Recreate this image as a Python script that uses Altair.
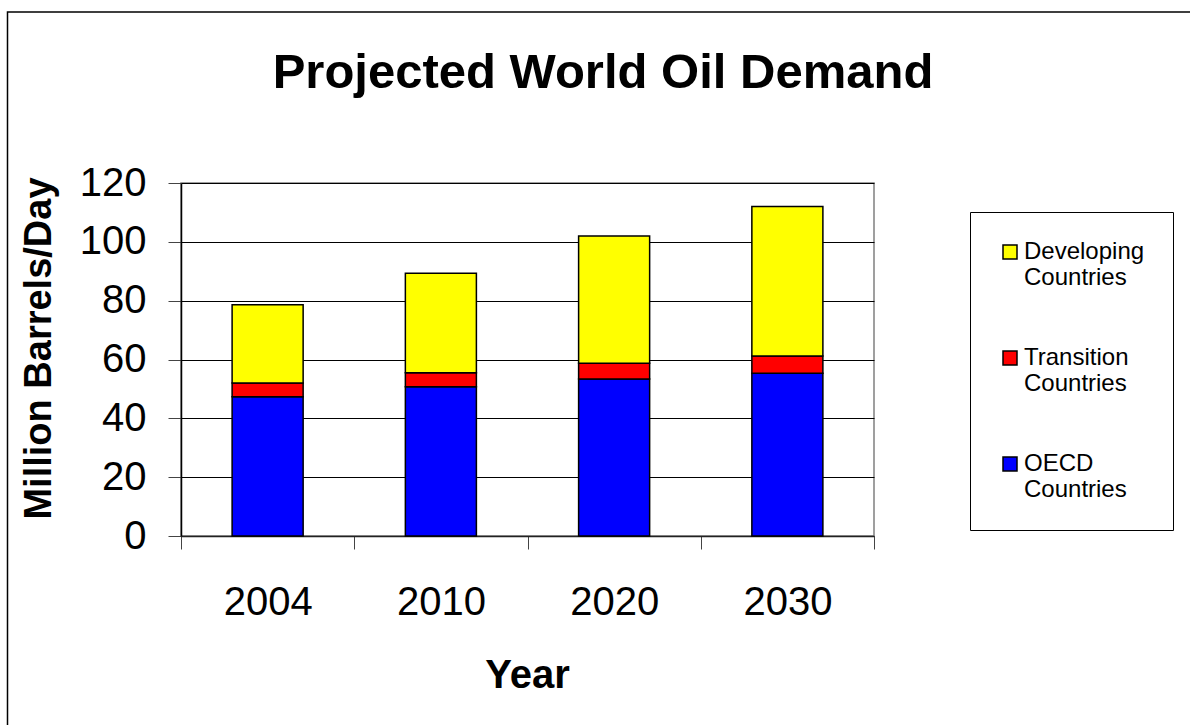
import altair as alt
import pandas as pd

# Projected world oil demand, million barrels per day
years = ["2004", "2010", "2020", "2030"]
oecd = [47.3, 50.7, 53.4, 55.3]
transition = [4.7, 4.8, 5.3, 5.9]
developing = [26.6, 33.8, 43.3, 50.8]

groups = ["Developing Countries", "Transition Countries", "OECD Countries"]
group_colors = ["#FFFF00", "#FF0000", "#0000FF"]
stack_rank = {"OECD Countries": 0, "Transition Countries": 1, "Developing Countries": 2}

chart_title = "Projected World Oil Demand"

rows = []
for i, yr in enumerate(years):
    for name, vals in (("OECD Countries", oecd),
                       ("Transition Countries", transition),
                       ("Developing Countries", developing)):
        rows.append({"Year": yr, "Group": name, "Demand": vals[i], "rank": stack_rank[name]})
df = pd.DataFrame(rows)

FONT = "Liberation Sans"
PLOT_W, PLOT_H = 693, 353
PAD_L, PAD_T = 181, 183

# legend labels wrap onto two lines, first line beside the swatch
LABEL_EXPR = "split(datum.label, ' ')"

bars = alt.Chart(df).mark_bar(
    width=alt.RelativeBandSize(0.41), stroke="black", strokeWidth=1.5
).encode(
    x=alt.X("Year:N", sort=years,
            scale=alt.Scale(paddingInner=0, paddingOuter=0),
            axis=alt.Axis(title="Year", tickBand="extent", labelAngle=0,
                          labelFontSize=40, labelFont=FONT, labelColor="black",
                          labelPadding=33, labelBaseline="top",
                          tickSize=13, tickColor="#444", tickWidth=1,
                          domainColor="#222", domainWidth=1.5, grid=False,
                          titleFontSize=40, titleFont=FONT, titleFontWeight="bold",
                          titleColor="black", titleX=346, titleY=151,
                          titleBaseline="alphabetic", titleAlign="center")),
    y=alt.Y("Demand:Q", stack="zero",
            scale=alt.Scale(domain=[0, 120], nice=False),
            axis=alt.Axis(title="Million Barrels/Day", values=[0, 20, 40, 60, 80, 100, 120],
                          labelFontSize=40, labelFont=FONT, labelColor="black",
                          labelPadding=22, tickSize=13, tickColor="#444",
                          domainColor="black", domainWidth=1.5,
                          grid=True, gridColor="black", gridWidth=1,
                          titleFontSize=38, titleFont=FONT, titleFontWeight="bold",
                          titleColor="black", titleAngle=270, titleX=-142, titleY=165,
                          titleAlign="center", titleBaseline="middle")),
    color=alt.Color("Group:N",
                    scale=alt.Scale(domain=groups, range=group_colors),
                    legend=alt.Legend(title=None, orient="none", legendX=789, legendY=29,
                                      fillColor="white", strokeColor="black",
                                      padding=28, rowPadding=56,
                                      symbolType="square", symbolSize=196,
                                      symbolStrokeColor="black", symbolStrokeWidth=1.5,
                                      labelFont=FONT, labelFontSize=24, labelColor="black",
                                      labelBaseline="middle", labelOffset=2,
                                      labelExpr=LABEL_EXPR)),
    order=alt.Order("rank:Q", sort="ascending"),
)

# chart heading
heading = alt.Chart(pd.DataFrame({"t": [chart_title]})).mark_text(
    font=FONT, fontSize=49, fontWeight="bold", color="black",
    align="center", baseline="alphabetic"
).encode(text="t:N", x=alt.value(422), y=alt.value(-95))

# outer frame of the slide
frame = alt.Chart(pd.DataFrame({"k": [0]})).mark_rect(
    fill="white", fillOpacity=0, stroke="black", strokeWidth=1.5
).encode(
    x=alt.value(-173.5), x2=alt.value(1400),
    y=alt.value(-171), y2=alt.value(900),
)

chart = alt.layer(frame, bars, heading).properties(
    width=PLOT_W, height=PLOT_H,
    autosize=alt.AutoSizeParams(type="none"),
    padding={"left": PAD_L, "top": PAD_T, "right": 1190 - PAD_L - PLOT_W, "bottom": 725 - PAD_T - PLOT_H},
    background="white",
).configure_view(stroke="#808080", strokeWidth=1.5)

chart.save("out.html", embed_options={"renderer": "svg", "actions": False})
